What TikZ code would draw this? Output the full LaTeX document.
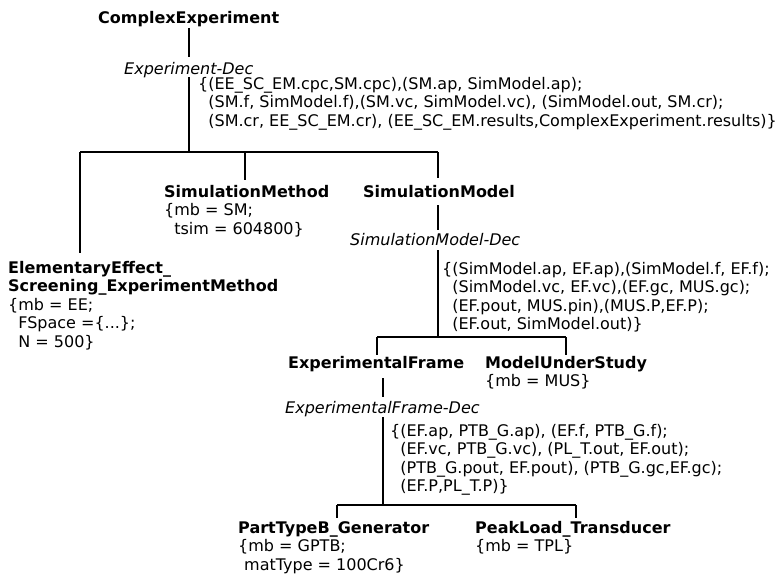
\documentclass[tikz,border=0pt]{standalone}
\usepackage{fontspec}
\setmainfont{DejaVu Sans}
\newcommand\us{\char95\relax}
\newcommand\ind{\phantom{\{}}
\newcommand\blk[1]{\begin{tabular}[t]{@{}l@{}}#1\end{tabular}}
\begin{document}
\begin{tikzpicture}[x=1pt,y=-1pt,
  lbl/.style={anchor=base west, inner sep=0pt, font=\fontsize{16}{18.5}\selectfont},
  nm/.style={lbl, font=\fontsize{16}{18.5}\selectfont\bfseries},
  dec/.style={lbl, font=\fontsize{16}{18.5}\selectfont\itshape},
  tree/.style={draw=black, line width=1.8pt}]
\useasboundingbox (0,0) rectangle (784,574);
\fill[white] (0,0) rectangle (784,574);

% nodes
\node[nm] (ce) at (98,23.3) {ComplexExperiment};
\node[dec] (ced) at (124,74) {Experiment-Dec};
\node[lbl] (cec) at (198,89) {\blk{\{(EE\us SC\us EM.cpc,SM.cpc),(SM.ap, SimModel.ap);\\
  \ind(SM.f, SimModel.f),(SM.vc, SimModel.vc), (SimModel.out, SM.cr);\\
  \ind(SM.cr, EE\us SC\us EM.cr), (EE\us SC\us EM.results,ComplexExperiment.results)\}}};

\node[lbl] (sm) at (164,197) {\blk{\textbf{SimulationMethod}\\
  \{mb = SM;\\ \ind tsim = 604800\}}};
\node[lbl] (ee) at (8,273) {\blk{\textbf{ElementaryEffect\us}\\
  \textbf{Screening\us ExperimentMethod}\\
  \{mb = EE;\\ \ind FSpace =\{...\};\\ \ind N = 500\}}};
\node[nm] (smod) at (363,197) {SimulationModel};
\node[dec] (smd) at (350,245) {SimulationModel-Dec};
\node[lbl] (smc) at (442,274) {\blk{\{(SimModel.ap, EF.ap),(SimModel.f, EF.f);\\
  \ind(SimModel.vc, EF.vc),(EF.gc, MUS.gc);\\
  \ind(EF.pout, MUS.pin),(MUS.P,EF.P);\\
  \ind(EF.out, SimModel.out)\}}};

\node[nm] (ef) at (288,368) {ExperimentalFrame};
\node[lbl] (mus) at (485,368) {\blk{\textbf{ModelUnderStudy}\\ \{mb = MUS\}}};
\node[dec] (efd) at (285,413) {ExperimentalFrame-Dec};
\node[lbl] (efc) at (390,436) {\blk{\{(EF.ap, PTB\us G.ap), (EF.f, PTB\us G.f);\\
  \ind(EF.vc, PTB\us G.vc), (PL\us T.out, EF.out);\\
  \ind(PTB\us G.pout, EF.pout), (PTB\us G.gc,EF.gc);\\
  \ind(EF.P,PL\us T.P)\}}};

\node[lbl] (ptb) at (238,533) {\blk{\textbf{PartTypeB\us Generator}\\
  \{mb = GPTB;\\ \hspace{6pt}matType = 100Cr6\}}};
\node[lbl] (plt) at (475,533) {\blk{\textbf{PeakLoad\us Transducer}\\ \{mb = TPL\}}};

% junction coordinates
\coordinate (j1) at (189,152);
\coordinate (j1l) at (80,152);
\coordinate (j1m) at (245,152);
\coordinate (j1r) at (438,152);
\coordinate (j2) at (438,337);
\coordinate (j2l) at (377,337);
\coordinate (j2r) at (566,337);
\coordinate (j3) at (383,505);
\coordinate (j3l) at (337,505);
\coordinate (j3r) at (576,505);

% connectors
\draw[tree] (j1 |- ce.south) ++(0,1) -- (j1 |- 0,57);
\draw[tree] (j1 |- 0,77) -- (j1);
\draw[tree] (j1l) -- (j1r);
\draw[tree] (j1l) -- (j1l |- 0,253);
\draw[tree] (j1m) -- (j1m |- 0,180);
\draw[tree] (j1r) -- (j1r |- 0,178);

\draw[tree] (j2 |- 0,205) -- (j2 |- 0,230);
\draw[tree] (j2 |- 0,250) -- (j2);
\draw[tree] (j2l) -- (j2r);
\draw[tree] (j2l) -- (j2l |- 0,355);
\draw[tree] (j2r) -- (j2r |- 0,355);

\draw[tree] (j3 |- 0,378) -- (j3 |- 0,397);
\draw[tree] (j3 |- 0,417) -- (j3);
\draw[tree] (j3l) -- (j3r);
\draw[tree] (j3l) -- (j3l |- 0,518);
\draw[tree] (j3r) -- (j3r |- 0,518);
\end{tikzpicture}
\end{document}
